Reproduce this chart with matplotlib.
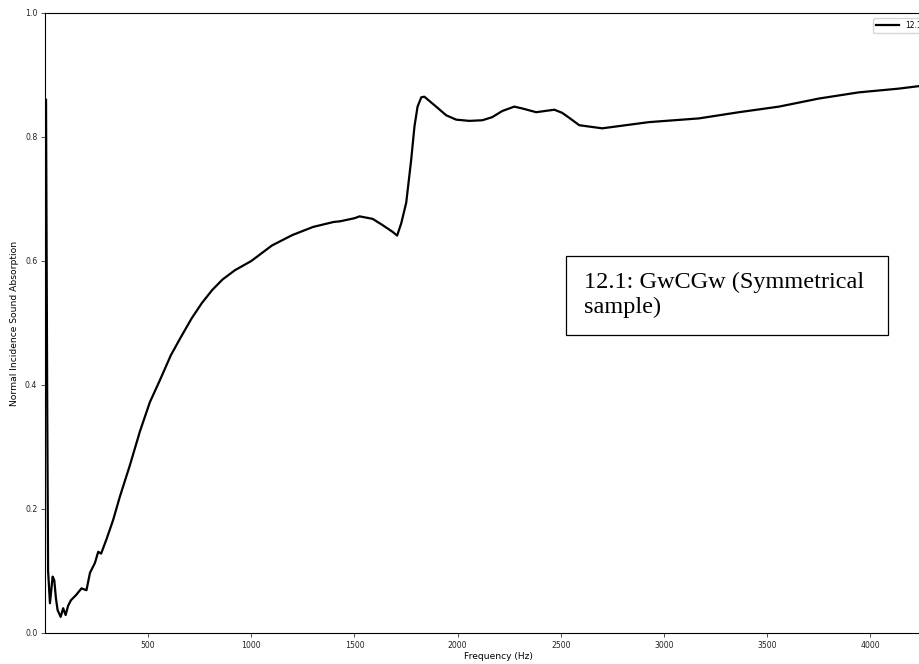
import matplotlib
matplotlib.use("Agg")
import matplotlib.pyplot as plt
from matplotlib.patches import Rectangle

# Frequency (Hz) and absorption values
freq = [5, 8, 11, 15, 24, 37, 45, 53, 61, 76, 88, 100, 112, 126, 150, 177, 201, 218, 242,
        258, 272, 300, 330, 363, 411, 460, 508, 560, 610, 660, 710, 760, 810, 860, 920,
        1000, 1100, 1200, 1300, 1400, 1430, 1500, 1525, 1588, 1636, 1685, 1707, 1727,
        1751, 1775, 1791, 1806, 1824, 1839, 1896, 1945, 1993, 2057, 2120, 2168, 2217,
        2275, 2314, 2381, 2469, 2507, 2541, 2590, 2701, 2928, 3170, 3364, 3558, 3751,
        3945, 4138, 4235, 4300]
absorb = [0.86, 0.60, 0.35, 0.10, 0.048, 0.091, 0.085, 0.056, 0.037, 0.026, 0.040, 0.029,
          0.044, 0.053, 0.061, 0.072, 0.069, 0.097, 0.113, 0.131, 0.128, 0.153, 0.182,
          0.22, 0.27, 0.325, 0.372, 0.41, 0.448, 0.478, 0.507, 0.532, 0.553, 0.57, 0.585,
          0.60, 0.625, 0.642, 0.655, 0.663, 0.664, 0.669, 0.672, 0.668, 0.658, 0.647, 0.641,
          0.661, 0.694, 0.763, 0.817, 0.849, 0.864, 0.865, 0.849, 0.835, 0.828, 0.826,
          0.827, 0.832, 0.842, 0.849, 0.846, 0.840, 0.844, 0.839, 0.831, 0.819, 0.814,
          0.824, 0.830, 0.840, 0.849, 0.862, 0.872, 0.878, 0.882, 0.884]

xticks = [500, 1000, 1500, 2000, 2500, 3000, 3500, 4000]
yticks = [0.0, 0.2, 0.4, 0.6, 0.8, 1.0]
series_label = "12.1"
note = "12.1: GwCGw (Symmetrical\nsample)"

W, H = 920, 664
fig = plt.figure(figsize=(W / 100, H / 100), dpi=100)

xmax = 4400
px_per_hz = 0.20629
left_px, bottom_px, top_px = 45, 633, 13
ax = fig.add_axes([left_px / W, 1 - bottom_px / H,
                   xmax * px_per_hz / W, (bottom_px - top_px) / H])
ax.plot(freq, absorb, color="black", lw=1.6, label=series_label)
ax.set_xlim(0, xmax)
ax.set_ylim(0, 1.0)
ax.set_xticks(xticks)
ax.set_yticks(yticks)
ax.tick_params(labelsize=5.6, length=3, width=0.6, pad=2.5,
               colors="#333333", labelcolor="#222222")
for s in ax.spines.values():
    s.set_linewidth(0.8)
ax.set_xlabel("Frequency (Hz)", fontsize=6.6, labelpad=2)
ax.set_ylabel("Normal Incidence Sound Absorption", fontsize=6.6, labelpad=4)

fig.legend(loc="upper left", bbox_to_anchor=(873 / W, 1 - 18 / H), fontsize=5.5,
           handlelength=3.0, frameon=True, borderaxespad=0)

# annotation box
rx0, ry0, rx1, ry1 = 566, 256, 888, 335
fig.patches.append(Rectangle((rx0 / W, 1 - ry1 / H), (rx1 - rx0) / W, (ry1 - ry0) / H,
                             transform=fig.transFigure, fill=True, facecolor="white",
                             edgecolor="black", lw=0.9, zorder=5))
fig.text(584 / W, 1 - 272 / H, note, fontsize=17.5, family="Liberation Serif",
         va="top", ha="left", linespacing=1.2, zorder=6)

fig.savefig("out.png", dpi=100)
